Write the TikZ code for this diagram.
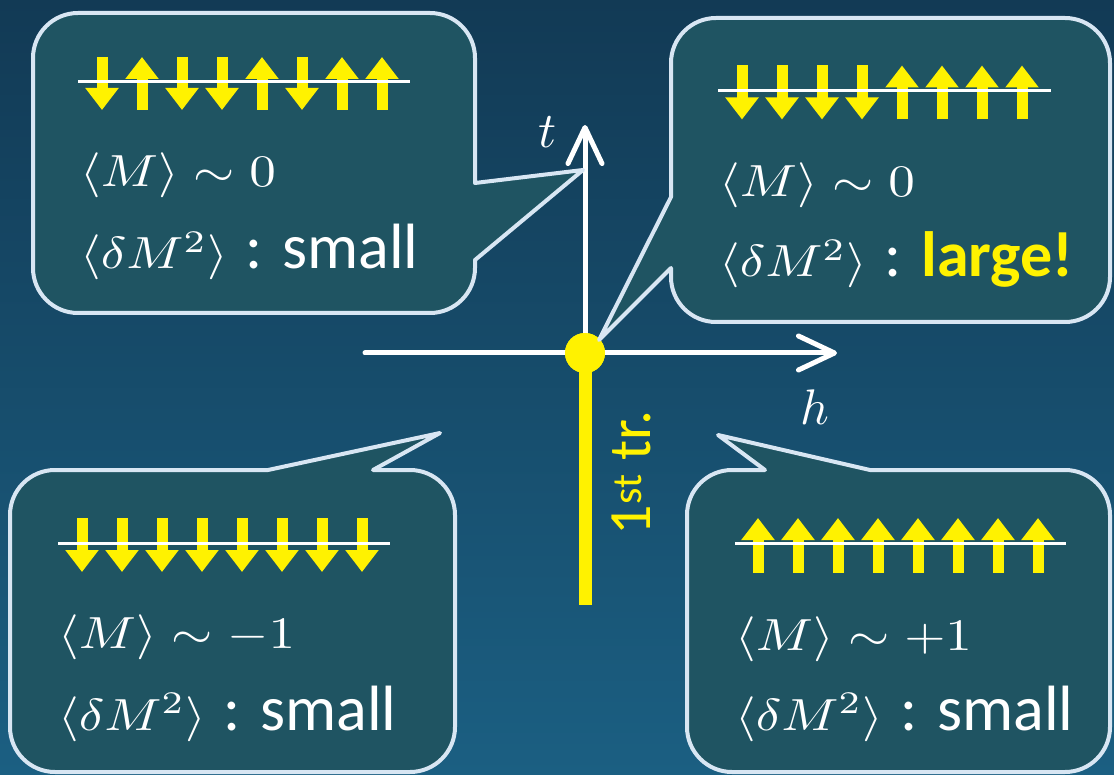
\documentclass[tikz,border=0pt]{standalone}
\usepackage{fontspec}
\usepackage{xcolor}
\usepackage{tikz}
\usetikzlibrary{arrows.meta,positioning}
\newfontfamily\carlito{Carlito}
\definecolor{bgtop}{HTML}{123A55}
\definecolor{bgbot}{HTML}{1B5F82}
\definecolor{bubblefill}{HTML}{1F5462}
\definecolor{bubbleline}{HTML}{D8E6F3}
\newcommand{\wmath}[1]{\scalebox{5.3}[4.5]{$#1$}}
\newcommand{\sanstext}{\fontsize{64}{72}\selectfont\carlito}
\tikzset{
  bubble/.style={draw=bubbleline,line width=4pt,fill=bubblefill,line join=round},
  spinarrow/.style={draw=yellow,line width=11pt,-{Triangle[width=32pt,length=22pt]}},
  chain/.style={draw=white,line width=3pt},
  axis/.style={draw=white,line width=5pt,line cap=round,-{Straight Barb[length=36pt,width=34pt,round]}},
  mtext/.style={anchor=base west,text=white,inner sep=0pt},
  dot/.style={circle,fill=yellow,minimum size=40pt,inner sep=0pt}
}

\begin{document}
\begin{tikzpicture}[x=1pt,y=-1pt]
\fill[top color=bgtop,bottom color=bgbot] (0,0) rectangle (1114,775);
\useasboundingbox (0,0) rectangle (1114,775);

\coordinate (hstart) at (365,353);
\coordinate (hend) at (837,353);
\coordinate (tend) at (585,125);
\coordinate (trend) at (585,605);
\node[dot] (origin) at (585,353) {};
\draw[axis] (hstart) -- (hend);
\draw[axis] (origin.center) -- (tend);
\draw[yellow,line width=13pt] (origin.center) -- (trend);
\node[dot] at (origin) {};

\draw[bubble] (583,170) -- (475,183) -- (475,58) arc[start angle=0,end angle=-90,radius=45] -- (78,13) arc[start angle=-90,end angle=-180,radius=45] -- (33,268) arc[start angle=180,end angle=90,radius=45] -- (430,313) arc[start angle=90,end angle=0,radius=45] -- (475,260) -- cycle;
\draw[bubble] (599,340) -- (671,268) -- (671,277) arc[start angle=180,end angle=90,radius=45] -- (1065,322) arc[start angle=90,end angle=0,radius=45] -- (1110,63) arc[start angle=0,end angle=-90,radius=45] -- (716,18) arc[start angle=-90,end angle=-180,radius=45] -- (671,197) -- cycle;
\draw[bubble] (440,433) -- (268,470) -- (55,470) arc[start angle=-90,end angle=-180,radius=45] -- (10,727) arc[start angle=180,end angle=90,radius=45] -- (410,772) arc[start angle=90,end angle=0,radius=45] -- (455,515) arc[start angle=0,end angle=-90,radius=45] -- (373,470) -- cycle;
\draw[bubble] (718,435) -- (765,470) -- (732,470) arc[start angle=-90,end angle=-180,radius=45] -- (687,727) arc[start angle=180,end angle=90,radius=45] -- (1065,772) arc[start angle=90,end angle=0,radius=45] -- (1110,515) arc[start angle=0,end angle=-90,radius=45] -- (870,470) -- cycle;

\foreach \s [count=\i from 0] in {-1,1,-1,-1,1,-1,1,1}
  \draw[spinarrow] (102+\i*40,83.5+\s*26.5) -- (102+\i*40,83.5-\s*26.5);
\draw[chain] (78,82) -- (410,82);
\foreach \s [count=\i from 0] in {-1,-1,-1,-1,1,1,1,1}
  \draw[spinarrow] (742+\i*40,92.5+\s*27) -- (742+\i*40,92.5-\s*27);
\draw[chain] (718,91) -- (1051,91);
\foreach \i in {0,...,7}
  \draw[spinarrow] (82+\i*40,518) -- (82+\i*40,572);
\draw[chain] (58,543) -- (390,543);
\foreach \i in {0,...,7}
  \draw[spinarrow] (758+\i*40,573) -- (758+\i*40,518);
\draw[chain] (735,543) -- (1066,543);

\node[mtext] (tlmag) at (80,187) {\wmath{\langle M\rangle\sim 0}};
\node[mtext] (tlfluc) at (80,269) {\wmath{\langle\delta M^2\rangle}\hspace{18pt}{\sanstext : small}};
\node[mtext] (trmag) at (719,197) {\wmath{\langle M\rangle\sim 0}};
\node[mtext] (trfluc) at (719,277) {\wmath{\langle\delta M^2\rangle}\hspace{18pt}{\sanstext : \textcolor{yellow}{\bfseries large!}}};
\node[mtext] (blmag) at (58,648) {\wmath{\langle M\rangle\sim -1}};
\node[mtext] (blfluc) at (58,730) {\wmath{\langle\delta M^2\rangle}\hspace{18pt}{\sanstext : small}};
\node[mtext] (brmag) at (735,650) {\wmath{\langle M\rangle\sim +1}};
\node[mtext] (brfluc) at (735,730) {\wmath{\langle\delta M^2\rangle}\hspace{18pt}{\sanstext : small}};

\node[text=white] (tlab) at (548,132) {\scalebox{5}{$t$}};
\node[text=white] (hlab) at (815,407) {\scalebox{5}{$h$}};
\node[rotate=90,text=yellow,font=\fontsize{60}{68}\selectfont\carlito] (trlab) at (631,473) {1\textsuperscript{st} tr.};
\end{tikzpicture}
\end{document}
